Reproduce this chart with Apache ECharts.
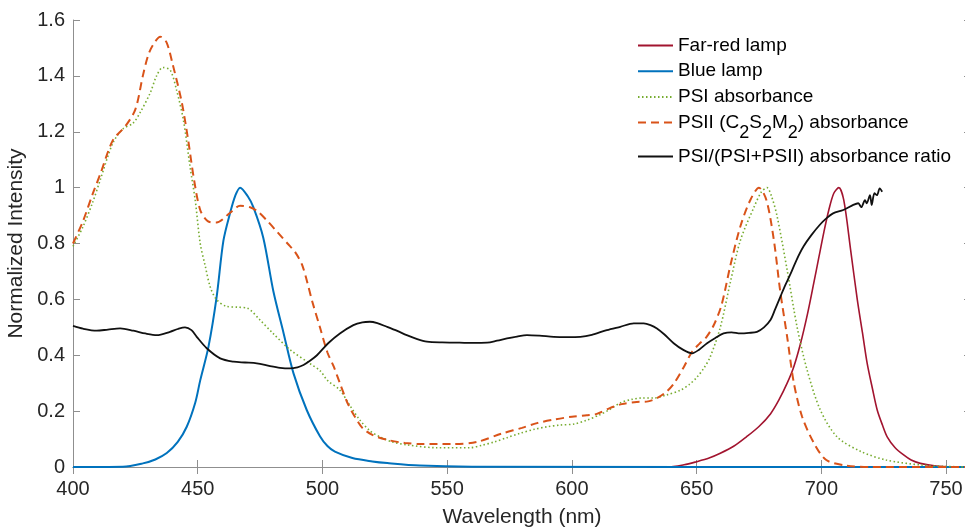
<!DOCTYPE html>
<html>
<head>
<meta charset="utf-8">
<script src="https://cdn.jsdelivr.net/npm/echarts@6/dist/echarts.min.js"></script>
<style>
  html, body { margin: 0; padding: 0; background: #fff; }
  #chart { width: 965px; height: 528px; }
</style>
</head>
<body>
<div id="chart"></div>
<script>
// wavelength ticks
const xTicks = [400, 450, 500, 550, 600, 650, 700, 750];

// Far-red lamp (zero below ~640 nm, hidden under the blue trace anyway)
const farRedX = [630, 638, 645, 650, 655, 659.5, 665, 670, 675, 679.6, 683, 686.3, 689, 691.6, 694.5, 697, 699, 701, 703, 705, 707, 709, 711.7, 714.4, 716.5, 718.4, 720.5, 722.4, 724.5, 726.4, 729.5, 733, 736, 739.7, 746, 752, 760];
const farRedY = [0, 0, 0.008, 0.019, 0.032, 0.049, 0.075, 0.108, 0.145, 0.19, 0.24, 0.30, 0.36, 0.44, 0.55, 0.66, 0.75, 0.84, 0.92, 0.98, 1.0, 0.955, 0.78, 0.60, 0.48, 0.37, 0.28, 0.204, 0.15, 0.108, 0.07, 0.043, 0.025, 0.013, 0.003, 0, 0];

// Blue lamp
const blueX = [400, 420, 428, 433, 437.6, 442, 445.6, 449, 451, 454.3, 457.6, 460.3, 463, 465, 467, 470, 472.3, 476.3, 480.3, 484.4, 488.4, 493.7, 499, 502, 505, 512, 520, 526, 539, 560, 760];
const blueY = [0, 0.001, 0.013, 0.027, 0.05, 0.09, 0.144, 0.23, 0.31, 0.43, 0.61, 0.81, 0.91, 0.97, 1.0, 0.97, 0.93, 0.82, 0.63, 0.48, 0.335, 0.204, 0.11, 0.075, 0.055, 0.032, 0.02, 0.014, 0.005, 0.001, 0];

// PSI absorbance
const psiX = [400, 404, 408, 411, 416, 420, 424, 427, 431, 433.5, 436, 439, 441.5, 444.3, 447, 449, 451, 453, 455, 457.5, 461.5, 466, 470, 475, 480, 487, 495, 499, 502, 507, 511, 515, 519, 523, 528, 534, 546, 559, 564, 569, 574, 579, 585, 590, 595, 601, 606, 611, 615, 619.5, 624, 628, 633, 638, 643.5, 647, 650, 653, 655.5, 659.5, 663.5, 667.5, 673, 676, 678.2, 680, 682.3, 686.3, 690.3, 694.3, 699.6, 706.3, 716, 726, 740, 750, 760];
const psiY = [0.79, 0.86, 0.95, 1.03, 1.16, 1.21, 1.23, 1.27, 1.34, 1.40, 1.43, 1.42, 1.35, 1.24, 1.07, 0.955, 0.80, 0.72, 0.645, 0.60, 0.575, 0.572, 0.568, 0.526, 0.48, 0.42, 0.37, 0.345, 0.31, 0.275, 0.22, 0.168, 0.13, 0.108, 0.09, 0.079, 0.069, 0.069, 0.078, 0.09, 0.105, 0.12, 0.135, 0.144, 0.15, 0.154, 0.168, 0.186, 0.205, 0.23, 0.242, 0.247, 0.247, 0.258, 0.275, 0.295, 0.32, 0.355, 0.395, 0.50, 0.66, 0.81, 0.93, 0.985, 1.0, 0.97, 0.896, 0.705, 0.50, 0.347, 0.204, 0.108, 0.055, 0.025, 0.007, 0.002, 0];

// PSII (C2S2M2) absorbance
const psiiX = [400, 404, 408, 411, 416, 421, 425, 428, 430, 432, 435, 437.5, 440, 443.5, 446, 448.5, 451, 454, 457.5, 463, 467, 471, 474, 478, 482, 486, 489, 492, 496, 499, 502, 504.5, 507, 510, 513, 516, 520, 526, 533, 540, 552, 562, 572, 580, 586, 593, 600, 606, 610, 615, 620, 626, 630, 634, 638, 641, 645, 648, 651, 654, 657, 660, 663.5, 667.5, 671.5, 675, 678, 681, 683.5, 686.3, 689, 692.3, 697, 702, 710, 720, 760];
const psiiY = [0.80, 0.88, 0.98, 1.05, 1.17, 1.22, 1.28, 1.40, 1.47, 1.51, 1.54, 1.52, 1.44, 1.31, 1.18, 1.03, 0.92, 0.88, 0.875, 0.91, 0.935, 0.93, 0.915, 0.88, 0.84, 0.80, 0.77, 0.72, 0.59, 0.50, 0.41, 0.36, 0.30, 0.23, 0.18, 0.14, 0.115, 0.097, 0.086, 0.082, 0.082, 0.09, 0.12, 0.14, 0.157, 0.17, 0.18, 0.185, 0.19, 0.21, 0.225, 0.233, 0.234, 0.246, 0.27, 0.30, 0.36, 0.41, 0.44, 0.466, 0.51, 0.58, 0.72, 0.86, 0.955, 1.0, 0.955, 0.81, 0.63, 0.466, 0.30, 0.18, 0.086, 0.025, 0.005, 0, 0];

// PSI/(PSI+PSII) absorbance ratio
const ratioX = [400, 404, 409.5, 414, 418.9, 424.2, 429, 433.6, 438.9, 442, 444.9, 447.5, 449.6, 453.6, 459, 464.3, 469, 473.7, 479, 483, 487, 490, 492.4, 495, 497.8, 502.3, 507, 512.4, 516, 519, 522, 525.8, 530, 533.8, 538, 541.9, 548, 555, 560, 566, 570, 574, 578, 582, 587, 592.7, 598, 603.4, 608, 614, 619.4, 624.8, 628.8, 631.5, 634.1, 637, 640.8, 644.5, 648.2, 651, 654.2, 657.5, 660.8, 664, 667.5, 671, 674.2, 677, 679.6, 681.5, 683.6, 685.5, 687.6, 690, 692.9, 696, 699.5, 702, 704.7, 708.8, 712.8, 714.8, 716, 717.5, 718.2, 719.5, 720.2, 721.3, 722.3, 723.4, 724.4];
const ratioY = [0.505, 0.495, 0.488, 0.492, 0.496, 0.488, 0.478, 0.472, 0.484, 0.494, 0.50, 0.49, 0.466, 0.425, 0.389, 0.377, 0.374, 0.371, 0.361, 0.355, 0.353, 0.357, 0.365, 0.38, 0.40, 0.443, 0.478, 0.508, 0.518, 0.52, 0.515, 0.502, 0.487, 0.472, 0.458, 0.449, 0.446, 0.445, 0.444, 0.445, 0.452, 0.46, 0.467, 0.472, 0.47, 0.466, 0.465, 0.466, 0.473, 0.49, 0.502, 0.514, 0.514, 0.508, 0.496, 0.475, 0.443, 0.42, 0.407, 0.42, 0.443, 0.462, 0.478, 0.482, 0.478, 0.48, 0.484, 0.50, 0.526, 0.565, 0.61, 0.65, 0.69, 0.74, 0.79, 0.83, 0.868, 0.89, 0.908, 0.92, 0.938, 0.944, 0.93, 0.955, 0.944, 0.973, 0.938, 0.98, 0.973, 0.997, 0.985];

function zip(xs, ys) {
    return xs.map((x, i) => [x, ys[i]]);
}

const axisColor = '#8f8f8f';
const textColor = '#262626';
const font = 'Liberation Sans';

// shared legend look, the ratio entry gets its own legend box (it sits lower)
const legendBase = {
    orient: 'vertical',
    left: 637,
    padding: 0,
    itemWidth: 35,
    itemHeight: 14,
    itemGap: 6.7,
    itemStyle: { opacity: 0 },
    textStyle: {
        fontSize: 19,
        color: '#000',
        fontFamily: font,
        rich: {
            sub: { fontSize: 18, fontFamily: font, color: '#000', padding: [10, 0, -10, 0] }
        }
    },
    formatter: function (name) {
        if (name.indexOf('PSII (') === 0) {
            return 'PSII (C{sub|2}S{sub|2}M{sub|2}) absorbance';
        }
        return name;
    }
};

let myChart = echarts.init(document.getElementById('chart'));
myChart.setOption({
    animation: false,
    textStyle: { fontFamily: font },
    grid: { left: 73, top: 20, bottom: 61, right: -6, outerBoundsMode: 'none' },
    legend: [
        Object.assign({}, legendBase, {
            top: 36,
            data: ['Far-red lamp', 'Blue lamp', 'PSI absorbance', 'PSII (C2S2M2) absorbance']
        }),
        Object.assign({}, legendBase, {
            top: 147,
            data: ['PSI/(PSI+PSII) absorbance ratio']
        })
    ],
    xAxis: [
        {
            type: 'value', min: 400, max: 760, interval: 50,
            name: 'Wavelength (nm)', nameLocation: 'middle', nameGap: 40,
            nameTextStyle: { fontSize: 21, color: textColor, fontFamily: font },
            axisLine: { lineStyle: { color: axisColor } },
            axisTick: { inside: true, length: 7, lineStyle: { color: axisColor } },
            axisLabel: { fontSize: 20, color: textColor, margin: 12, showMaxLabel: false, fontFamily: font },
            splitLine: { show: false }
        },
        {
            type: 'value', position: 'top', min: 400, max: 760, interval: 50,
            axisLine: { lineStyle: { color: axisColor } },
            axisTick: { inside: true, length: 7, lineStyle: { color: axisColor } },
            axisLabel: { show: false },
            splitLine: { show: false }
        }
    ],
    yAxis: [
        {
            type: 'value', min: 0, max: 1.6, interval: 0.2,
            name: 'Normalized Intensity', nameLocation: 'middle', nameGap: 39,
            nameTextStyle: { fontSize: 21, color: textColor, fontFamily: font },
            axisLine: { show: true, lineStyle: { color: axisColor } },
            axisTick: { show: true, inside: true, length: 7, lineStyle: { color: axisColor } },
            axisLabel: { fontSize: 20, color: textColor, margin: 8, fontFamily: font },
            splitLine: { show: false }
        },
        {
            type: 'value', position: 'right', min: 0, max: 1.6, interval: 0.2,
            axisLine: { show: true, lineStyle: { color: axisColor } },
            axisTick: { show: true, inside: true, length: 7, lineStyle: { color: axisColor } },
            axisLabel: { show: false },
            splitLine: { show: false }
        }
    ],
    series: [
        {
            name: 'Far-red lamp', type: 'line', symbol: 'none', smooth: 0.3, clip: false,
            lineStyle: { color: '#A2142F', width: 1.6 }, itemStyle: { color: '#A2142F' },
            data: zip(farRedX, farRedY)
        },
        {
            name: 'Blue lamp', type: 'line', symbol: 'none', smooth: 0.3, clip: false,
            lineStyle: { color: '#0072BD', width: 2 }, itemStyle: { color: '#0072BD' },
            data: zip(blueX, blueY)
        },
        {
            name: 'PSI absorbance', type: 'line', symbol: 'none', smooth: 0.3, clip: false,
            lineStyle: { color: '#77AC30', width: 1.6, type: [1.5, 2.5] }, itemStyle: { color: '#77AC30' },
            data: zip(psiX, psiY)
        },
        {
            name: 'PSII (C2S2M2) absorbance', type: 'line', symbol: 'none', smooth: 0.3, clip: false,
            lineStyle: { color: '#D95319', width: 2, type: [8, 5] }, itemStyle: { color: '#D95319' },
            data: zip(psiiX, psiiY)
        },
        {
            name: 'PSI/(PSI+PSII) absorbance ratio', type: 'line', symbol: 'none', smooth: 0.3, clip: false,
            lineStyle: { color: '#111', width: 1.8 }, itemStyle: { color: '#111' },
            data: zip(ratioX, ratioY)
        }
    ]
});
window.onresize = function () {
    myChart.resize();
};
</script>
</body>
</html>
